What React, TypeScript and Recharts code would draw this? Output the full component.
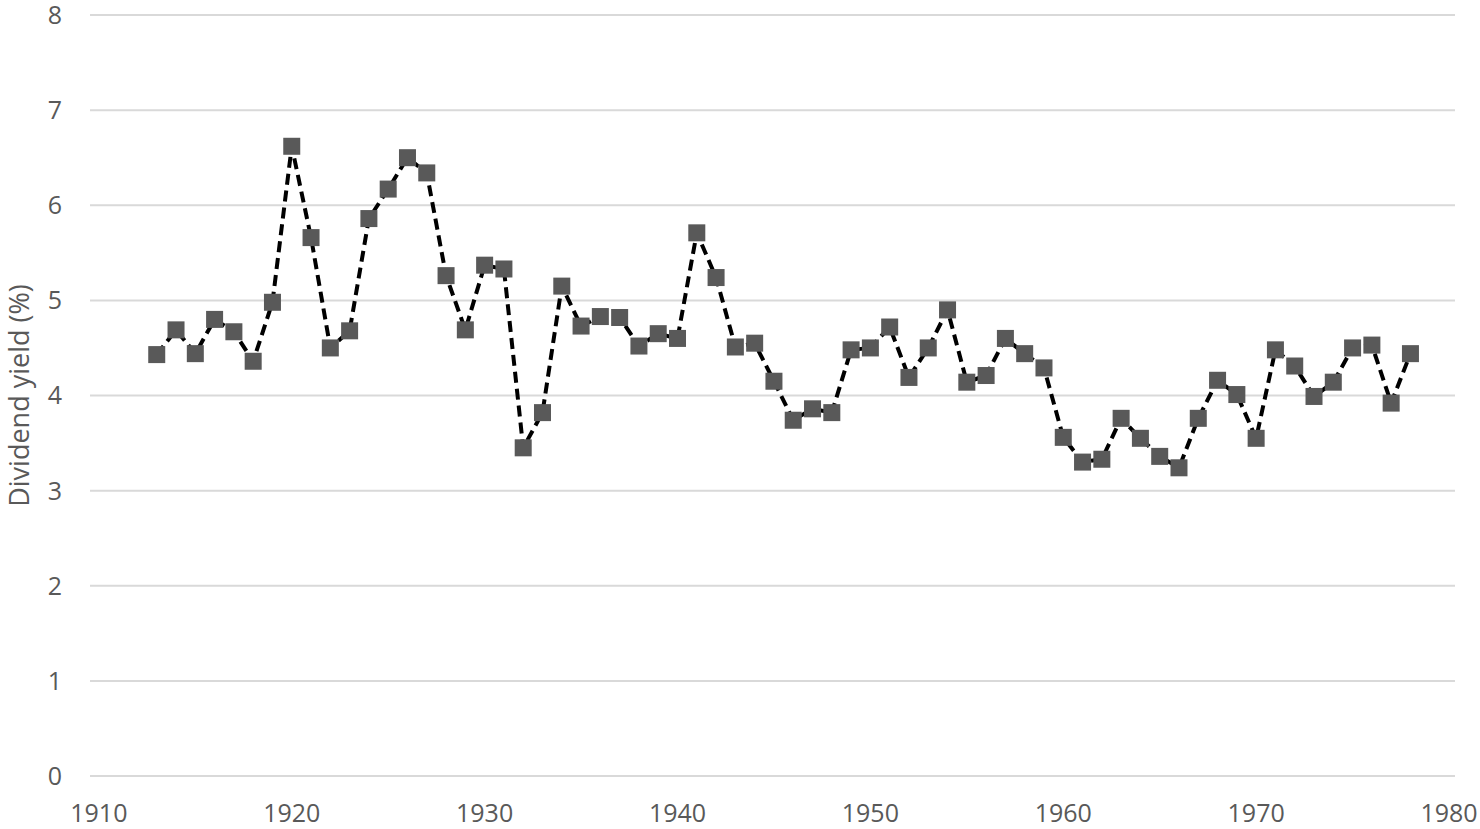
import { CartesianGrid, Line, LineChart, XAxis, YAxis, Label } from 'recharts';

const years = [
  1913, 1914, 1915, 1916, 1917, 1918, 1919, 1920, 1921, 1922, 1923, 1924, 1925, 1926, 1927, 1928, 1929,
  1930, 1931, 1932, 1933, 1934, 1935, 1936, 1937, 1938, 1939, 1940, 1941, 1942, 1943, 1944, 1945, 1946,
  1947, 1948, 1949, 1950, 1951, 1952, 1953, 1954, 1955, 1956, 1957, 1958, 1959, 1960, 1961, 1962, 1963,
  1964, 1965, 1966, 1967, 1968, 1969, 1970, 1971, 1972, 1973, 1974, 1975, 1976, 1977, 1978,
];

const dividendYield = [
  4.43, 4.69, 4.44, 4.8, 4.67, 4.36, 4.98, 6.62, 5.66, 4.5, 4.68, 5.86, 6.17, 6.5, 6.34, 5.26, 4.69,
  5.37, 5.33, 3.45, 3.82, 5.15, 4.73, 4.83, 4.82, 4.52, 4.65, 4.6, 5.71, 5.24, 4.51, 4.55, 4.15, 3.74,
  3.86, 3.82, 4.48, 4.5, 4.72, 4.19, 4.5, 4.9, 4.14, 4.21, 4.6, 4.44, 4.29, 3.56, 3.3, 3.33, 3.76,
  3.55, 3.36, 3.24, 3.76, 4.16, 4.01, 3.55, 4.48, 4.31, 3.99, 4.14, 4.5, 4.53, 3.92, 4.44,
];

const xTicks = [1910, 1920, 1930, 1940, 1950, 1960, 1970, 1980];
const yTicks = [0, 1, 2, 3, 4, 5, 6, 7, 8];

const data = years.map((year, i) => ({ year, value: dividendYield[i] }));

const FONT = '"Open Sans", "Liberation Sans", sans-serif';
const TEXT_COLOR = '#595959';

const SquareDot = (props: any) => {
  const { cx, cy, index } = props;
  const s = 17;
  return <rect key={`sq-${index}`} x={cx - s / 2} y={cy - s / 2} width={s} height={s} fill="#595959" />;
};

export default function App() {
  return (
    <div style={{ width: 1480, height: 829, background: '#fff' }}>
      <style>{`body { margin: 0; }`}</style>
      <LineChart width={1480} height={829} data={data} margin={{ top: 15, right: 25, left: 0, bottom: 0 }}>
        <CartesianGrid vertical={false} stroke="#d9d9d9" strokeWidth={2} />
        <XAxis
          dataKey="year"
          type="number"
          domain={[1909.54, 1980.31]}
          ticks={xTicks}
          allowDataOverflow
          axisLine={false}
          tickLine={false}
          tickSize={0}
          tickMargin={28}
          height={53}
          tick={{ fill: TEXT_COLOR, fontSize: 25, fontFamily: FONT }}
        />
        <YAxis
          domain={[0, 8]}
          ticks={yTicks}
          axisLine={false}
          tickLine={false}
          tickSize={0}
          tickMargin={28}
          width={90}
          tick={{ fill: TEXT_COLOR, fontSize: 25, fontFamily: FONT }}
        >
          <Label
            value="Dividend yield (%)"
            angle={-90}
            position="insideLeft"
            offset={19}
            style={{ fill: TEXT_COLOR, fontSize: 27, fontFamily: FONT, textAnchor: 'middle' }}
          />
        </YAxis>
        <Line
          type="linear"
          dataKey="value"
          stroke="#000"
          strokeWidth={4}
          strokeDasharray="11 6"
          dot={SquareDot}
          activeDot={false}
          isAnimationActive={false}
        />
      </LineChart>
    </div>
  );
}
